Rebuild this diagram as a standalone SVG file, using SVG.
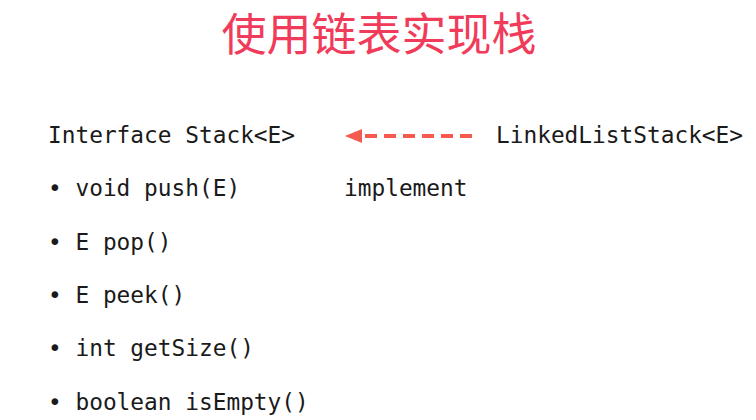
<svg xmlns="http://www.w3.org/2000/svg" width="756" height="420" viewBox="0 0 756 420">
<style>
.t{font-family:"DejaVu Sans Mono","Liberation Mono",monospace;font-size:22.8px;fill:#1a1a1a}
.title{font-family:"Noto Sans CJK SC","Noto Sans",sans-serif;font-size:45px;fill:#f03c5a}
</style>
<rect width="756" height="420" fill="#ffffff"/>
<text class="title" x="379" y="51" text-anchor="middle">使用链表实现栈</text>
<g id="stack">
<text class="t" x="48" y="143">Interface Stack&lt;E&gt;</text>
<text class="t" x="48" y="196">• void push(E)</text>
<text class="t" x="48" y="250">• E pop()</text>
<text class="t" x="48" y="303">• E peek()</text>
<text class="t" x="48" y="356">• int getSize()</text>
<text class="t" x="48" y="410">• boolean isEmpty()</text>
</g>
<g id="linkedliststack">
<text class="t" x="496" y="143">LinkedListStack&lt;E&gt;</text>
</g>
<g id="connectors">
<line x1="472" y1="136" x2="362" y2="136" stroke="#f55a4e" stroke-width="4" stroke-dasharray="12,7"/>
<path d="M362,129 L345,136 L362,143 Z" fill="#f55a4e"/>
<text class="t" x="344" y="196">implement</text>
</g>
</svg>
